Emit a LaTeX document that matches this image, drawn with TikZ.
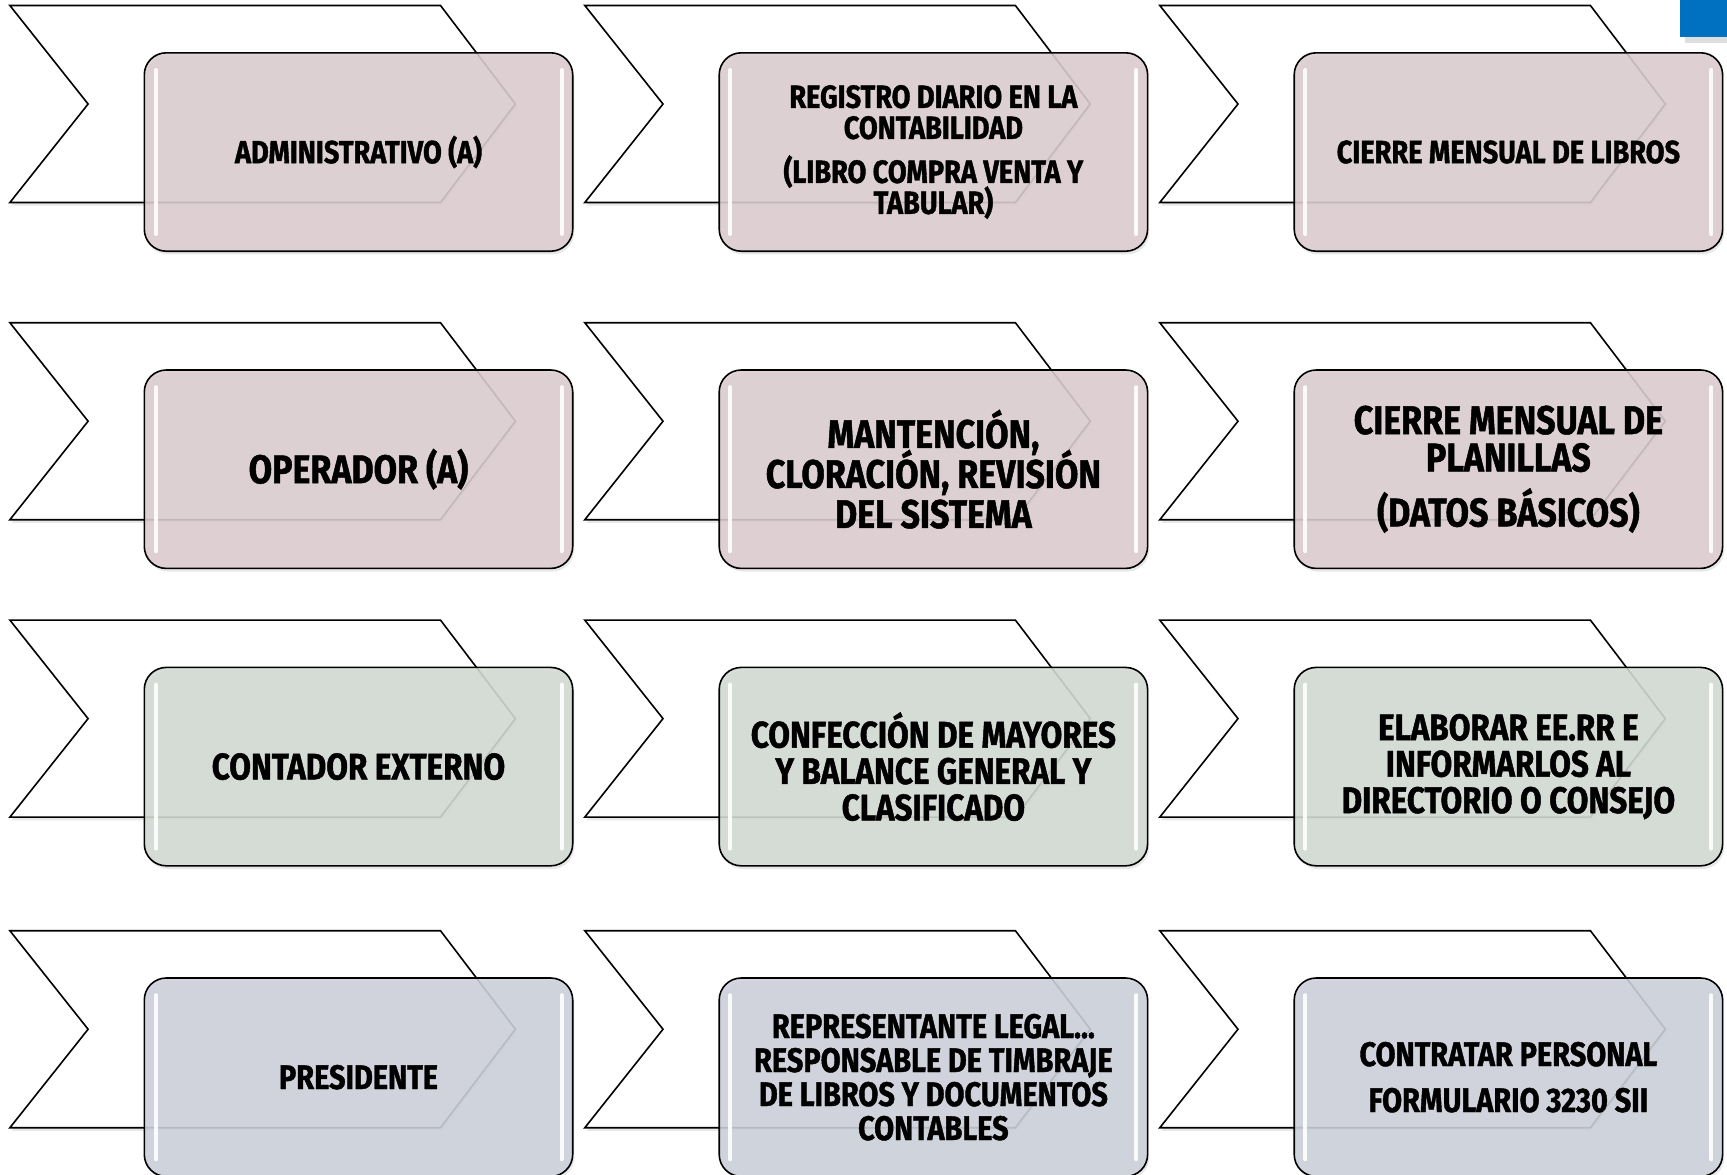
\documentclass[tikz,border=0pt]{standalone}
\usepackage{fontspec}
\newfontfamily\boxfont{Fira Sans}[FakeStretch=0.85, BoldFeatures={FakeBold=1.2}]
\usepackage{tikz}
\usetikzlibrary{shadows}
\definecolor{boxpink}{HTML}{DCCDD0}
\definecolor{boxgreen}{HTML}{D3DBD3}
\definecolor{boxgray}{HTML}{CDD1DA}
\definecolor{cornerblue}{HTML}{0070C0}
\tikzset{
    soft_shadow/.style = {drop shadow={opacity=0.18, shadow xshift=0.8pt, shadow yshift=-1.6pt}},
    chevron/.style = {draw=black, line width=0.8pt, fill=white, soft_shadow},
    phasebox/.style = {draw=black, line width=0.8pt, rounded corners=11pt,
        minimum width=214.2pt, minimum height=99.2pt, inner sep=0pt,
        fill opacity=0.88, text opacity=1, align=center, soft_shadow},
    pink_box/.style = {phasebox, fill=boxpink},
    green_box/.style = {phasebox, fill=boxgreen},
    gray_box/.style = {phasebox, fill=boxgray},
    shine/.style = {white, line width=2pt, line cap=round, opacity=0.9},
}
\newcommand{\boxtext}[2]{\boxfont\bfseries\fontsize{#1}{#2}\selectfont\lineskiplimit=-20pt}

\begin{document}
\begin{tikzpicture}[x=0.5pt, y=-0.5pt]
    \useasboundingbox (0,0) rectangle (1727,1174);
    % chevrons behind the boxes
    \foreach \T in {5.5, 322.7, 620.1, 930.7} {
        \foreach \L in {9.9, 584.8, 1159.8} {
            \draw[chevron] (\L,\T) -- ++(430.6,0) -- ++(74.9,98.5) -- ++(-74.9,98.5)
                -- ++(-430.6,0) -- ++(78.2,-98.5) -- cycle;
        }
    }
    \node[pink_box, font=\boxtext{16}{15.5}] (admin) at (358.5,152) {ADMINISTRATIVO (A)};
    \node[pink_box, font=\boxtext{16}{15.5}] (registro) at (933.4,152)
        {REGISTRO DIARIO EN LA\\CONTABILIDAD\\[6.5pt](LIBRO COMPRA VENTA Y\\TABULAR)};
    \node[pink_box, font=\boxtext{16}{15.5}] (cierrelib) at (1508.4,152) {CIERRE MENSUAL DE LIBROS};

    \node[pink_box, font=\boxtext{20}{20}] (operador) at (358.5,469.2) {OPERADOR (A)};
    \node[pink_box, font=\boxtext{20}{20}] (mantencion) at (933.4,469.2)
        {MANTENCIÓN,\\CLORACIÓN, REVISIÓN\\DEL SISTEMA};
    \node[pink_box, font=\boxtext{20}{18.7}] (planillas) at (1508.4,469.2)
        {CIERRE MENSUAL DE\\PLANILLAS\\[8.8pt](DATOS BÁSICOS)};

    \node[green_box, font=\boxtext{18.5}{18.2}] (contador) at (358.5,766.6) {CONTADOR EXTERNO};
    \node[green_box, font=\boxtext{18.5}{18.2}] (confeccion) at (933.4,766.6)
        {CONFECCIÓN DE MAYORES\\Y BALANCE GENERAL Y\\CLASIFICADO};
    \node[green_box, font=\boxtext{18.5}{18.2}] (eerr) at (1508.4,766.6)
        {ELABORAR EE.RR E\\INFORMARLOS AL\\DIRECTORIO O CONSEJO};

    \node[gray_box, font=\boxtext{17}{17}] (presidente) at (358.5,1077.2) {PRESIDENTE};
    \node[gray_box, font=\boxtext{17}{17}] (representante) at (933.4,1077.2)
        {REPRESENTANTE LEGAL...\\RESPONSABLE DE TIMBRAJE\\DE LIBROS Y DOCUMENTOS\\CONTABLES};
    \node[gray_box, font=\boxtext{17}{23}] (contratar) at (1508.4,1077.2)
        {CONTRATAR PERSONAL\\FORMULARIO 3230 SII};

    \foreach \n in {admin, registro, cierrelib, operador, mantencion, planillas,
        contador, confeccion, eerr, presidente, representante, contratar} {
        \draw[shine] ([xshift=6pt,yshift=-9pt]\n.north west) -- ([xshift=6pt,yshift=9pt]\n.south west);
        \draw[shine] ([xshift=-6pt,yshift=-9pt]\n.north east) -- ([xshift=-6pt,yshift=9pt]\n.south east);
    }
    % corner mark
    \fill[black!13] (1685,37) rectangle (1727,43);
    \fill[cornerblue] (1680,0) rectangle (1727,37);
\end{tikzpicture}
\end{document}
